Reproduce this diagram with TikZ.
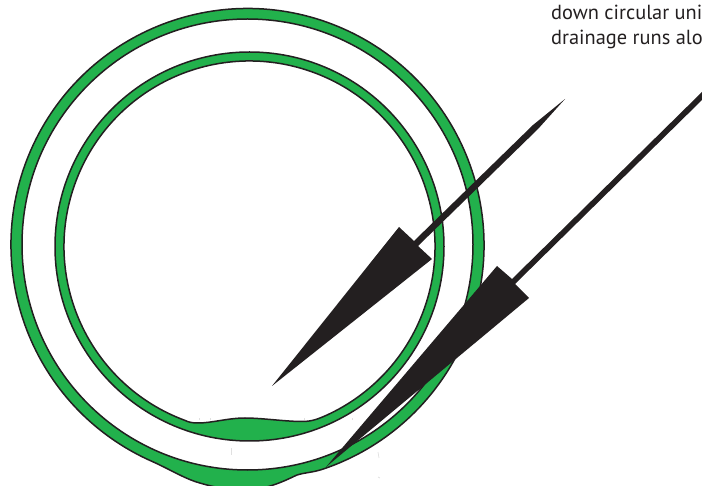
\documentclass[tikz,border=0pt]{standalone}
\usepackage{fontspec}
\setmainfont{PT Sans}
\definecolor{ringgreen}{HTML}{22B14C}
\definecolor{inkblack}{HTML}{231F20}
\tikzset{
  ringband/.style={fill=ringgreen,draw=inkblack,line width=1.5pt,even odd rule,line join=round},
  pointer/.style={fill=inkblack,draw=none},
  caption/.style={anchor=base west,inner sep=0pt,text=inkblack,font=\fontsize{20.4}{24}\selectfont},
  speck/.style={draw=black!12,line width=0.7pt}
}
\begin{document}
\begin{tikzpicture}[x=1pt,y=-1pt]
\useasboundingbox (0,0) rectangle (702,486);
\clip (0,0) rectangle (702,486);
% outer ring
\path[ringband]
  (247.5,245) ++(114:236.5) arc[start angle=114,end angle=431.4,radius=236.5]
  .. controls (313,472.5) and (305,472.5) .. (297,475)
  .. controls (287,479.5) and (268,490) .. (244,490)
  .. controls (228,490) and (212,487) .. (195,481.5)
  .. controls (183,477.5) and (167,468) .. cycle
  (247.5,244.5) circle[radius=225.5];
% inner ring
\path[ringband]
  (249.5,246.5) circle[radius=194.5]
  (249.5,246.5) ++(110.3:185.5) arc[start angle=110.3,end angle=425.3,radius=185.5]
  .. controls (318,419) and (312,421.5) .. (302,421.5)
  .. controls (285,421.5) and (262,418) .. (245,418)
  .. controls (228,418) and (212,423) .. (198,423)
  .. controls (192,423) and (188,422) .. cycle;
% pointers
\path[pointer] (272,386) -- (432,259) -- (418,246) -- (538,129) -- (565,99)
  -- (533,125) -- (414,241) -- (399,227) -- cycle;
\path[pointer] (326,467) -- (529,298) -- (515,284) -- (703,99) -- (703,91)
  -- (512,279) -- (497,266) -- cycle;
% faint marks
\foreach \xa/\ya/\xb/\yb in {231/448/231/455, 378/452/379/458, 199/418/199/420, 210/418/210/420, 304/418/304/420, 352/418/352/420, 378/477/380/478}
  \draw[speck] (\xa,\ya) -- (\xb,\yb);
% text
\node[caption] (lineone) at (551,19.3) {down circular uni};
\node[caption] (linetwo) at (551,44.7) {drainage runs alo};
\end{tikzpicture}
\end{document}
